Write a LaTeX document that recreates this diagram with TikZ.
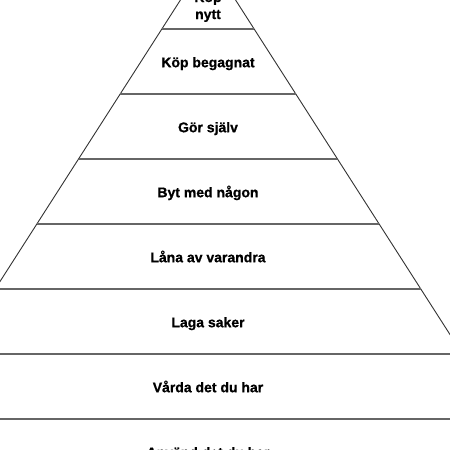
\documentclass[tikz,border=0pt]{standalone}
\usepackage{fontspec}
\setmainfont{Liberation Sans}[BoldFeatures={FakeBold=0.8}]
\begin{document}
\begin{tikzpicture}[x=1pt,y=-1pt,
  lab/.style={font=\fontsize{14}{17}\selectfont\bfseries, align=center, inner sep=0pt, text=black, anchor=base},
  hline/.style={draw=black!60, line width=1.3pt},
  side/.style={draw=black!80, line width=0.9pt}]
\useasboundingbox (0,0) rectangle (450,450);
\clip (0,0) rectangle (450,450);
\fill[white] (0,0) rectangle (450,450);
\coordinate (apex) at (208,-43);
\coordinate (bl) at ({208-0.641*543},500);
\coordinate (br) at ({208+0.641*543},500);
\draw[side] (bl) -- (apex) -- (br);
\foreach \y in {29,94,159,224,289,354,419}{
  \draw[hline] ({208-0.641*(\y+43)},\y) -- ({208+0.641*(\y+43)},\y);
}
\node[lab] (t1a) at (208,2) {Köp};
\node[lab] (t1b) at (208,19) {nytt};
\node[lab] (t2) at (208,67.2) {Köp begagnat};
\node[lab] (t3) at (208,132.2) {Gör själv};
\node[lab] (t4) at (208,197.2) {Byt med någon};
\node[lab] (t5) at (208,262.2) {Låna av varandra};
\node[lab] (t6) at (208,327.2) {Laga saker};
\node[lab] (t7) at (208,392.2) {Vårda det du har};
\node[lab] (t8) at (208,457.2) {Använd det du har};
\end{tikzpicture}
\end{document}
